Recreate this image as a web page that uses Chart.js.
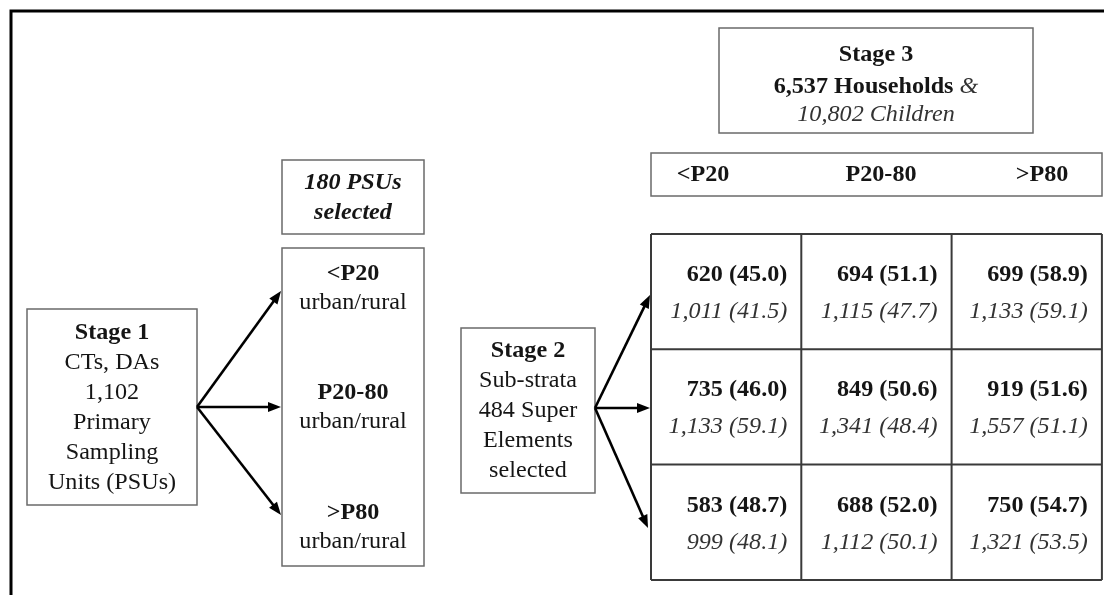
<!DOCTYPE html>
<html>
<head>
<meta charset="utf-8">
<script src="https://cdn.jsdelivr.net/npm/chart.js@4.4.1/dist/chart.umd.min.js"></script>
<style>
  html, body { margin: 0; padding: 0; background: #fff; }
  #diagram { display: block; }
</style>
</head>
<body>
<canvas id="diagram" width="1104" height="595"></canvas>
<script>
// sampling design values, cells read row by row (stage 2 sub-strata x income tier)
const tiers = ['<P20', 'P20-80', '>P80'];
const households = [620, 694, 699, 735, 849, 919, 583, 688, 750];
const householdPct = [45.0, 51.1, 58.9, 46.0, 50.6, 51.6, 48.7, 52.0, 54.7];
const children = [1011, 1115, 1133, 1133, 1341, 1557, 999, 1112, 1321];
const childPct = [41.5, 47.7, 59.1, 59.1, 48.4, 51.1, 48.1, 50.1, 53.5];
const psuTotal = 1102;
const psuSelected = 180;
const superElements = 484;
const totalHouseholds = 6537;
const totalChildren = 10802;

const SERIF = '"Liberation Serif", "Times New Roman", serif';
const SX = 1.05; // glyphs in the original are a bit wide
const grid = { x0: 651, y0: 234, w: 150.3, h: 115.3 };

// one anchor point per cell (right edge of the cell text)
const cellPoints = households.map((v, i) => {
    const r = Math.floor(i / 3), c = i % 3;
    return { x: grid.x0 + (c + 1) * grid.w - 14, y: grid.y0 + r * grid.h + 41 };
});

const fmt = n => n.toLocaleString('en-US');

function text(ctx, str, x, y, font, align, color) {
    ctx.save();
    ctx.font = font;
    ctx.fillStyle = color || '#151515';
    ctx.textBaseline = 'middle';
    ctx.textAlign = align || 'center';
    ctx.translate(x, y);
    ctx.scale(SX, 1);
    ctx.fillText(str, 0, 0);
    ctx.restore();
}

function box(ctx, x1, y1, x2, y2, color, lw) {
    ctx.save();
    ctx.strokeStyle = color || '#6a6a6a';
    ctx.lineWidth = lw || 1.5;
    ctx.strokeRect(x1, y1, x2 - x1, y2 - y1);
    ctx.restore();
}

function arrow(ctx, x1, y1, x2, y2) {
    const a = Math.atan2(y2 - y1, x2 - x1);
    const len = 13, half = 5;
    ctx.save();
    ctx.strokeStyle = '#000';
    ctx.fillStyle = '#000';
    ctx.lineWidth = 2.6;
    ctx.beginPath();
    ctx.moveTo(x1, y1);
    ctx.lineTo(x2 - len * 0.8 * Math.cos(a), y2 - len * 0.8 * Math.sin(a));
    ctx.stroke();
    ctx.beginPath();
    ctx.moveTo(x2, y2);
    ctx.lineTo(x2 - len * Math.cos(a) + half * Math.sin(a), y2 - len * Math.sin(a) - half * Math.cos(a));
    ctx.lineTo(x2 - len * Math.cos(a) - half * Math.sin(a), y2 - len * Math.sin(a) + half * Math.cos(a));
    ctx.closePath();
    ctx.fill();
    ctx.restore();
}

const diagramPlugin = {
    id: 'diagram',
    afterDraw(chart) {
        const ctx = chart.ctx;
        const sx = chart.scales.x, sy = chart.scales.y;
        const X = v => sx.getPixelForValue(v);
        const Y = v => sy.getPixelForValue(v);
        const B = 'bold 23px ' + SERIF;
        const R = '23px ' + SERIF;
        const I = 'italic 23px ' + SERIF;
        const BI = 'italic bold 23px ' + SERIF;

        // outer frame (top and left only)
        ctx.save();
        ctx.strokeStyle = '#000';
        ctx.lineWidth = 3;
        ctx.beginPath();
        ctx.moveTo(X(11), Y(595));
        ctx.lineTo(X(11), Y(11));
        ctx.lineTo(X(1104), Y(11));
        ctx.stroke();
        ctx.restore();

        // stage 1
        box(ctx, X(27), Y(309), X(197), Y(505));
        const s1 = ['Stage 1', 'CTs, DAs', fmt(psuTotal), 'Primary', 'Sampling', 'Units (PSUs)'];
        s1.forEach((t, i) => text(ctx, t, X(112), Y(333 + i * 30), i === 0 ? B : R));

        // selected PSUs + strata
        box(ctx, X(282), Y(160), X(424), Y(234));
        text(ctx, psuSelected + ' PSUs', X(353), Y(183), BI);
        text(ctx, 'selected', X(353), Y(213), BI);
        box(ctx, X(282), Y(248), X(424), Y(566));
        const strataY = [274, 393, 513];
        tiers.forEach((t, i) => {
            text(ctx, t, X(353), Y(strataY[i]), B);
            text(ctx, 'urban/rural', X(353), Y(strataY[i] + 29), R);
        });

        arrow(ctx, X(197), Y(407), X(281), Y(291));
        arrow(ctx, X(197), Y(407), X(281), Y(407));
        arrow(ctx, X(197), Y(407), X(281), Y(515));

        // stage 2
        box(ctx, X(461), Y(328), X(595), Y(493));
        const s2 = ['Stage 2', 'Sub-strata', superElements + ' Super', 'Elements', 'selected'];
        s2.forEach((t, i) => text(ctx, t, X(528), Y(351 + i * 30), i === 0 ? B : R));

        arrow(ctx, X(595), Y(408), X(650), Y(295));
        arrow(ctx, X(595), Y(408), X(650), Y(408));
        arrow(ctx, X(595), Y(408), X(648), Y(528));

        // stage 3 heading
        box(ctx, X(719), Y(28), X(1033), Y(133));
        text(ctx, 'Stage 3', X(876), Y(55), B);
        ctx.save();
        ctx.font = B;
        const w1 = ctx.measureText(fmt(totalHouseholds) + ' Households ').width * SX;
        ctx.font = I;
        const w2 = ctx.measureText('&').width * SX;
        ctx.restore();
        const lx = X(876) - (w1 + w2) / 2;
        text(ctx, fmt(totalHouseholds) + ' Households ', lx, Y(87), B, 'left');
        text(ctx, '&', lx + w1, Y(87), I, 'left', '#333');
        text(ctx, fmt(totalChildren) + ' Children', X(876), Y(115), I, 'center', '#333');

        // tier header row
        box(ctx, X(651), Y(153), X(1102), Y(196));
        const headX = [703, 881, 1042];
        tiers.forEach((t, i) => text(ctx, t, X(headX[i]), Y(175), B));

        // 3x3 grid
        ctx.save();
        ctx.strokeStyle = '#3a3a3a';
        ctx.lineWidth = 2;
        for (let i = 0; i <= 3; i++) {
            ctx.beginPath();
            ctx.moveTo(X(grid.x0 + i * grid.w), Y(grid.y0));
            ctx.lineTo(X(grid.x0 + i * grid.w), Y(grid.y0 + 3 * grid.h));
            ctx.stroke();
            ctx.beginPath();
            ctx.moveTo(X(grid.x0), Y(grid.y0 + i * grid.h));
            ctx.lineTo(X(grid.x0 + 3 * grid.w), Y(grid.y0 + i * grid.h));
            ctx.stroke();
        }
        ctx.restore();

        const meta = chart.getDatasetMeta(0);
        meta.data.forEach((pt, i) => {
            text(ctx, households[i] + ' (' + householdPct[i].toFixed(1) + ')', pt.x, pt.y, B, 'right');
            text(ctx, fmt(children[i]) + ' (' + childPct[i].toFixed(1) + ')', pt.x, pt.y + 37, I, 'right', '#333');
        });
    }
};

new Chart(document.getElementById('diagram').getContext('2d'), {
    type: 'scatter',
    data: {
        datasets: [{
            label: 'cells',
            data: cellPoints,
            pointRadius: 0
        }]
    },
    options: {
        responsive: false,
        animation: false,
        events: [],
        layout: { padding: 0 },
        plugins: { legend: { display: false }, tooltip: { enabled: false } },
        scales: {
            x: { type: 'linear', min: 0, max: 1104, display: false },
            y: { type: 'linear', min: 0, max: 595, reverse: true, display: false }
        }
    },
    plugins: [diagramPlugin]
});
</script>
</body>
</html>
